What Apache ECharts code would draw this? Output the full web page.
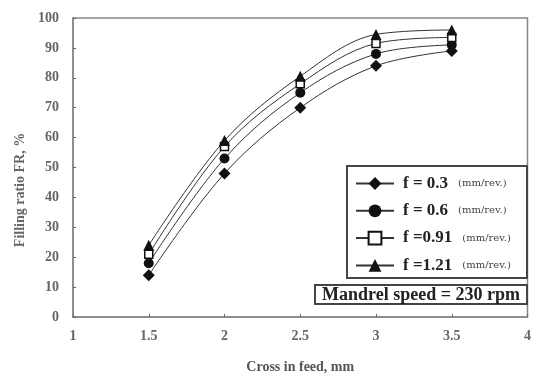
<!DOCTYPE html>
<html><head><meta charset="utf-8">
<script src="https://cdn.jsdelivr.net/npm/echarts@6/dist/echarts.min.js"></script>
<style>html,body{margin:0;padding:0;background:#fff}#c{width:534px;height:379px}</style>
</head><body><div id="c"></div>
<script>
const crossInFeed = [1.5, 2, 2.5, 3, 3.5];
const fr_f03  = [14, 48, 70, 84, 89];
const fr_f06  = [18, 53, 75, 88, 91];
const fr_f091 = [21, 57, 78, 91.5, 93.5];
const fr_f121 = [24, 59, 80.5, 94.5, 96];
const seriesNames = ['f = 0.3', 'f = 0.6', 'f =0.91', 'f =1.21'];
const unitLabel = '(mm/rev.)';
const boxText = 'Mandrel speed = 230 rpm';
const xName = 'Cross in feed, mm';
const yName = 'Filling ratio FR, %';

const serif = '"Liberation Serif", "DejaVu Serif", serif';
const dserif = '"DejaVu Serif", serif';
const pair = (ys) => crossInFeed.map((x, i) => [x, ys[i]]);
const mk = (name, ys, symbol, size, fill) => ({
  name, type: 'line', data: pair(ys), smooth: 0.35,
  symbol, symbolSize: size,
  lineStyle: { color: '#333', width: 1 },
  itemStyle: { color: fill, borderColor: '#111', borderWidth: fill === '#fff' ? 1.5 : 0 },
  emphasis: { disabled: true }
});

const chart = echarts.init(document.getElementById('c'));
chart.setOption({
  animation: false,
  backgroundColor: '#fff',
  grid: { left: 73, right: 3, top: 18, bottom: 61, show: true, borderColor: '#888', borderWidth: 1.5 },
  xAxis: {
    type: 'value', min: 1, max: 4, interval: 0.5,
    axisLine: { lineStyle: { color: '#888', width: 1.5 } },
    axisTick: { inside: true, length: 3, lineStyle: { color: '#666' } },
    splitLine: { show: false },
    axisLabel: { color: '#666', fontFamily: serif, fontSize: 14, fontWeight: 'bold', margin: 12 },
    name: xName, nameLocation: 'middle', nameGap: 43,
    nameTextStyle: { color: '#555', fontFamily: serif, fontSize: 14, fontWeight: 'bold' }
  },
  yAxis: {
    type: 'value', min: 0, max: 100, interval: 10,
    axisLine: { show: true, lineStyle: { color: '#888', width: 1.5 } },
    axisTick: { show: true, inside: true, length: 3, lineStyle: { color: '#666' } },
    splitLine: { show: false },
    axisLabel: { color: '#666', fontFamily: serif, fontSize: 14, fontWeight: 'bold', margin: 14 }
  },
  legend: {
    orient: 'vertical', left: 355, top: 175,
    itemWidth: 38, itemHeight: 16, itemGap: 10.3, padding: 0,
    data: seriesNames,
    formatter: (n) => '{a|' + n + '}   {b|' + unitLabel + '}',
    textStyle: {
      rich: {
        a: { fontFamily: serif, fontSize: 17, fontWeight: 'bold', color: '#222', padding: [0, 0, 0, 4] },
        b: { fontFamily: dserif, fontSize: 10, color: '#444' }
      }
    }
  },
  graphic: [
    { type: 'rect', z: 1, shape: { x: 347, y: 166, width: 180, height: 112 },
      style: { fill: '#fff', stroke: '#444', lineWidth: 2 } },
    { type: 'rect', z: 1, shape: { x: 315, y: 285, width: 212, height: 19 },
      style: { fill: '#fff', stroke: '#444', lineWidth: 2 } },
    { type: 'text', z: 2, x: 421, y: 295,
      style: { text: boxText, fontFamily: serif, fontSize: 18, fontWeight: 'bold', fill: '#222', align: 'center', verticalAlign: 'middle' } },
    { type: 'text', z: 2, x: 20, y: 190, rotation: Math.PI / 2,
      style: { text: yName, fontFamily: serif, fontSize: 14, fontWeight: 'bold', fill: '#666', align: 'center', verticalAlign: 'middle' } }
  ],
  series: [
    mk(seriesNames[0], fr_f03, 'diamond', 12, '#111'),
    mk(seriesNames[1], fr_f06, 'circle', 10, '#111'),
    mk(seriesNames[2], fr_f091, 'rect', 8, '#fff'),
    mk(seriesNames[3], fr_f121, 'triangle', 11, '#111')
  ]
});
</script></body></html>
